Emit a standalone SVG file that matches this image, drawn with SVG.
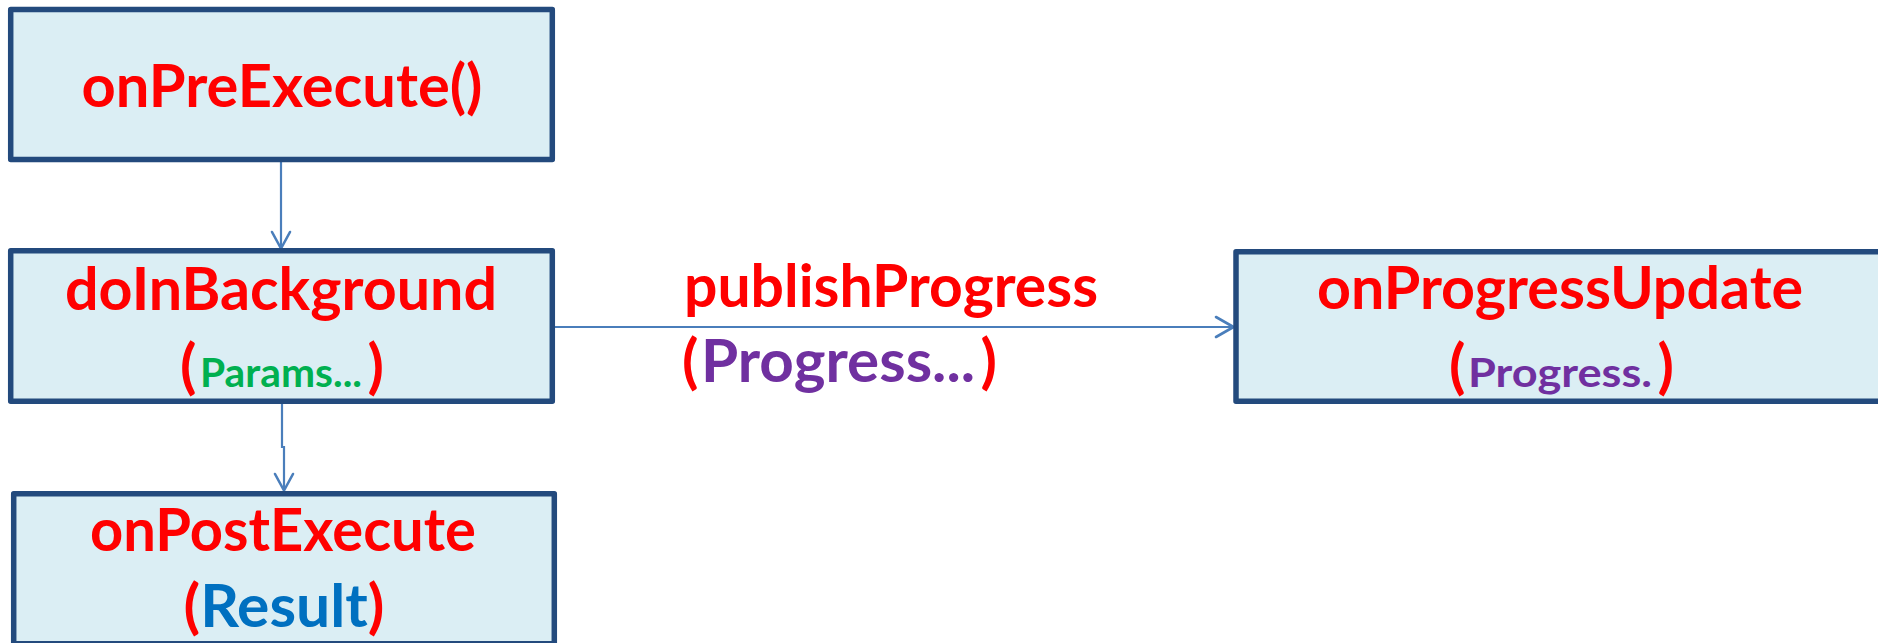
<svg xmlns="http://www.w3.org/2000/svg" width="1878" height="643" viewBox="0 0 1878 643">
<style>
.box{fill:#DBEEF4;stroke:#234A7D;stroke-width:5.5;stroke-linejoin:round}
.t{font-family:Lato,"Liberation Sans",sans-serif;font-weight:bold}
.big{font-size:60px}
.small{font-size:40px}
.red{fill:#FF0000}
.green{fill:#00B050}
.blue{fill:#0070C0}
.purple{fill:#7030A0}
.conn{fill:none;stroke:#4A7EBB;stroke-width:2.2}
.head{fill:none;stroke:#4A7EBB;stroke-width:2.6;stroke-linecap:round;stroke-linejoin:round}
</style>
<rect width="1878" height="643" fill="#FFFFFF"/>
<g id="connectors">
  <path class="conn" d="M281 162 V248"/>
  <path class="head" d="M272 232 L281 248.5 L290 232"/>
  <path class="conn" d="M282 404 V447 H284 V490"/>
  <path class="head" d="M275 474 L284 490.5 L293 474"/>
  <path class="conn" d="M555 327 H1233"/>
  <path class="head" d="M1216 317 L1233.5 327 L1216 337"/>
  <g id="label-publishProgress">
    <text class="t big red" x="684" y="307" textLength="414" lengthAdjust="spacingAndGlyphs">publishProgress</text>
    <text class="t big red" x="682" y="382">(</text>
    <text class="t big purple" x="701" y="382" textLength="274" lengthAdjust="spacingAndGlyphs">Progress...</text>
    <text class="t big red" x="997" y="382" text-anchor="end">)</text>
  </g>
</g>
<g id="node-onPreExecute">
  <rect class="box" x="10.7" y="9.5" width="541.6" height="150"/>
  <text class="t big red" x="282" y="107" text-anchor="middle" textLength="401" lengthAdjust="spacingAndGlyphs">onPreExecute()</text>
</g>
<g id="node-doInBackground">
  <rect class="box" x="10.7" y="250.7" width="541.6" height="150.6"/>
  <text class="t big red" x="281" y="310" text-anchor="middle" textLength="432" lengthAdjust="spacingAndGlyphs">doInBackground</text>
  <text class="t big red" x="180" y="387">(</text>
  <text class="t small green" x="200" y="387" textLength="162" lengthAdjust="spacingAndGlyphs">Params...</text>
  <text class="t big red" x="384" y="387" text-anchor="end">)</text>
</g>
<g id="node-onPostExecute">
  <rect class="box" x="13.7" y="493.7" width="540.6" height="150"/>
  <text class="t big red" x="283" y="551" text-anchor="middle" textLength="386" lengthAdjust="spacingAndGlyphs">onPostExecute</text>
  <text class="t big" x="284" y="627" text-anchor="middle" textLength="201" lengthAdjust="spacingAndGlyphs"><tspan class="red">(</tspan><tspan class="blue">Result</tspan><tspan class="red">)</tspan></text>
</g>
<g id="node-onProgressUpdate">
  <rect class="box" x="1236" y="251.7" width="650" height="149.6"/>
  <text class="t big red" x="1560" y="309" text-anchor="middle" textLength="486" lengthAdjust="spacingAndGlyphs">onProgressUpdate</text>
  <text class="t big red" x="1449" y="387">(</text>
  <text class="t small purple" x="1468" y="387" textLength="184" lengthAdjust="spacingAndGlyphs">Progress.</text>
  <text class="t big red" x="1674" y="387" text-anchor="end">)</text>
</g>
</svg>
